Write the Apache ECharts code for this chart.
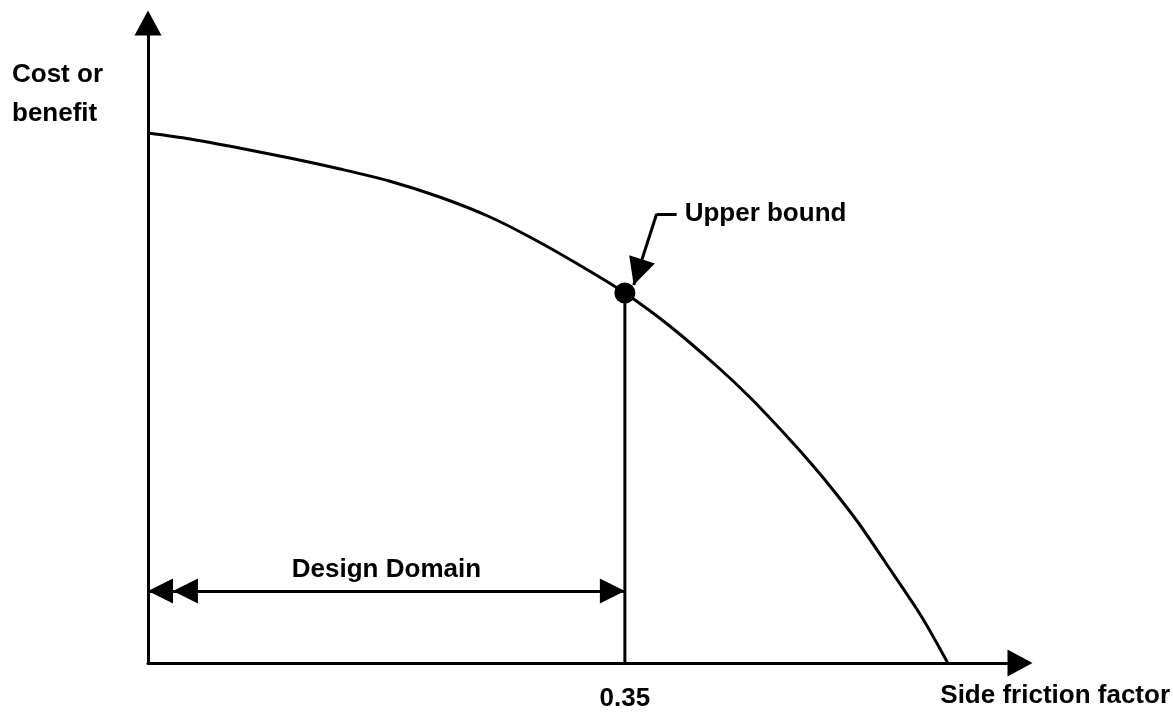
<!DOCTYPE html>
<html>
<head>
<meta charset="utf-8">
<script src="https://cdn.jsdelivr.net/npm/echarts@6/dist/echarts.min.js"></script>
<style>
  html, body { margin: 0; padding: 0; background: #fff; }
  #chart { width: 1173px; height: 717px; }
</style>
</head>
<body>
<div id="chart"></div>
<script>
// curve: cost or benefit vs side friction factor
var frictionX = [0, 0.031, 0.067, 0.104, 0.141, 0.177, 0.214, 0.251, 0.287, 0.324, 0.35,
                 0.382, 0.419, 0.443, 0.468, 0.487, 0.504, 0.522, 0.541, 0.567, 0.587];
var benefitY = [530, 524, 515, 505, 494, 482, 466, 446, 421, 392, 370,
                338, 295, 264, 228, 199, 171, 139, 101, 48, 0];

var upperBound = [0.35, 370];
var xTickLabels = [0.35];
var domainY = 72;          // height of the "Design Domain" arrow
var leaderCorner = [0.3733, 449];
var leaderEnd = [0.388, 449];
var leaderTip = [0.3565, 378];

var FONT = '"Liberation Sans", Arial, Helvetica, sans-serif';

var curve = frictionX.map(function (x, i) { return [x, benefitY[i]]; });

var chart = echarts.init(document.getElementById('chart'));

// arrow heads with the tip on the end point (not centred on it)
function head(size) {
  return { symbol: 'triangle', symbolSize: size, symbolOffset: [0, size / 2] };
}

var labelFont = { color: '#000', fontSize: 26, fontWeight: 'bold', fontFamily: FONT };

var opts = {
  animation: false,
  backgroundColor: '#fff',
  grid: { left: 148, right: 151, top: 23, bottom: 54 },
  xAxis: {
    type: 'value',
    min: 0,
    max: 0.64,
    interval: 0.35,
    splitLine: { show: false },
    axisTick: { show: false },
    axisLine: {
      show: true,
      symbol: ['none', 'triangle'],
      symbolSize: [27, 25],
      lineStyle: { color: '#000', width: 3 }
    },
    axisLabel: Object.assign({
      margin: 23,
      showMaxLabel: false,
      formatter: function (v) {
        for (var i = 0; i < xTickLabels.length; i++) {
          if (Math.abs(v - xTickLabels[i]) < 1e-9) return String(xTickLabels[i]);
        }
        return '';
      }
    }, labelFont),
    name: 'Side friction factor',
    nameLocation: 'end',
    nameGap: 150,
    nameTextStyle: Object.assign({
      align: 'right', verticalAlign: 'top', padding: [20, 0, 0, 0]
    }, labelFont)
  },
  yAxis: {
    type: 'value',
    min: 0,
    max: 640,
    splitLine: { show: false },
    axisTick: { show: false },
    axisLabel: { show: false },
    axisLine: {
      show: true,
      symbol: ['none', 'triangle'],
      symbolSize: [27, 25],
      lineStyle: { color: '#000', width: 3 }
    }
  },
  graphic: [{
    type: 'text',
    left: 12,
    top: 55,
    style: Object.assign({ text: 'Cost or\nbenefit', fill: '#000', lineHeight: 39 }, labelFont)
  }],
  series: [
    {
      type: 'line',
      data: curve,
      smooth: 0.3,
      symbol: 'none',
      lineStyle: { color: '#000', width: 3 },
      z: 3
    },
    {
      type: 'line',
      data: [[upperBound[0], 0], upperBound],
      symbol: 'none',
      lineStyle: { color: '#000', width: 3 },
      z: 3,
      markLine: {
        silent: true,
        symbol: 'none',
        lineStyle: { color: '#000', width: 3, type: 'solid' },
        label: { show: false },
        data: [
          [
            Object.assign({ coord: [0, domainY] }, head(25)),
            Object.assign({ coord: [upperBound[0], domainY],
              label: Object.assign({ show: true, position: 'middle', distance: 8,
                                     formatter: 'Design Domain' }, labelFont) }, head(25))
          ],
          [
            Object.assign({ coord: [0.0183, domainY] }, head(25)),
            { coord: [0.03, domainY], symbol: 'none' }
          ],
          [
            { coord: leaderEnd, symbol: 'none',
              label: Object.assign({ show: true, position: 'start', distance: 8,
                                     formatter: 'Upper bound' }, labelFont) },
            { coord: leaderCorner, symbol: 'none' }
          ],
          [
            { coord: leaderCorner, symbol: 'none' },
            Object.assign({ coord: leaderTip }, head(27))
          ]
        ]
      }
    },
    {
      type: 'scatter',
      data: [upperBound],
      symbol: 'circle',
      symbolSize: 21,
      itemStyle: { color: '#000', opacity: 1 },
      z: 4
    }
  ]
};

chart.setOption(opts);
</script>
</body>
</html>
